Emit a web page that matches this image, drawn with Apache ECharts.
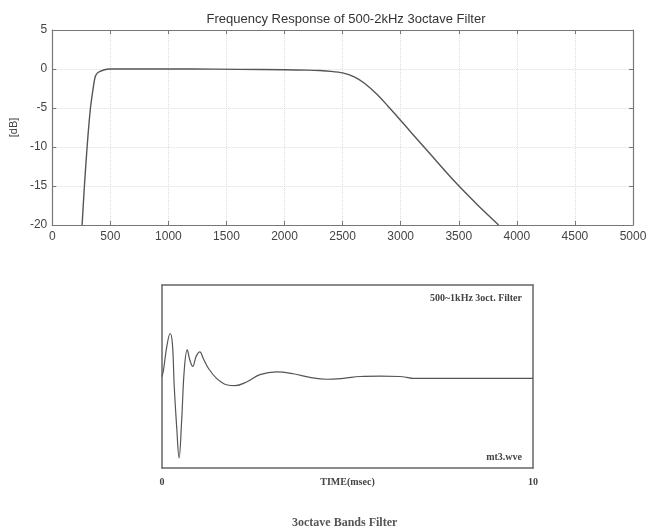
<!DOCTYPE html>
<html>
<head>
<meta charset="utf-8">
<script src="https://cdn.jsdelivr.net/npm/echarts@6/dist/echarts.min.js"></script>
<style>
  html, body { margin: 0; padding: 0; background: #fff; }
  #chart { width: 651px; height: 531px; }
</style>
</head>
<body>
<div id="chart"></div>
<script>
// Frequency response (Hz, dB)
const freqHz = [257, 277, 300, 329, 357, 370, 390, 412, 450, 490, 800, 1200, 1600, 2000, 2200, 2300, 2400, 2500, 2600, 2685, 2800, 2887, 3000, 3088, 3260, 3457, 3660, 3843];
const gainDb = [-20, -15, -10, -5, -2, -1, -0.5, -0.3, -0.1, 0, 0, 0, -0.05, -0.1, -0.15, -0.2, -0.3, -0.5, -1.0, -1.8, -3.3, -4.7, -6.6, -8.1, -11.0, -14.3, -17.4, -20];

// Impulse response (msec, relative amplitude)
const timeMs = [0, 0.04, 0.13, 0.22, 0.28, 0.33, 0.40, 0.46, 0.53, 0.60, 0.68, 0.75, 0.83, 0.92, 1.02, 1.11, 1.25, 1.47, 1.74, 1.97, 2.28, 2.64, 3.09, 3.54, 3.99, 4.44, 4.89, 5.34, 5.88, 6.42, 6.6, 6.77, 8, 10];
const amplitude = [0, 0.07, 0.33, 0.47, 0.36, -0.11, -0.58, -0.89, -0.48, 0.07, 0.29, 0.18, 0.11, 0.22, 0.27, 0.20, 0.09, -0.02, -0.09, -0.10, -0.06, 0.02, 0.05, 0.03, -0.01, -0.03, -0.02, 0, 0.005, 0, -0.01, -0.02, -0.02, -0.02];

const sans = "Liberation Sans";
const serif = "Liberation Serif";
const ink = "#444";

const chart = echarts.init(document.getElementById("chart"));

chart.setOption({
    backgroundColor: "#fff",
    animation: false,
    title: [
        {
            text: "Frequency Response of 500-2kHz 3octave Filter",
            left: 341, top: 8, textAlign: "center",
            textStyle: { fontFamily: sans, fontSize: 13, fontWeight: "normal", color: "#333" },
        },
        {
            text: "3octave Bands Filter",
            left: 287, top: 512,
            textStyle: { fontFamily: serif, fontSize: 12, fontWeight: "bold", color: "#555" },
        },
    ],
    graphic: [
        {
            type: "text", right: 129, top: 293,
            style: { text: "500~1kHz 3oct. Filter", font: "bold 10px " + serif, fill: "#444" },
        },
        {
            type: "text", right: 129, top: 452,
            style: { text: "mt3.wve", font: "bold 10px " + serif, fill: "#444" },
        },
    ],
    grid: [
        { left: 50, top: 30, width: 583, height: 195 },
        { left: 162, top: 285, width: 371, height: 183 },
    ],
    xAxis: [
        {
            gridIndex: 0, type: "value", min: 0, max: 5000, interval: 500,
            axisLine: { onZero: false, lineStyle: { color: "#777", width: 1.2 } },
            axisTick: { inside: true, length: 4, lineStyle: { color: "#777" } },
            axisLabel: { fontFamily: sans, fontSize: 12, color: ink, margin: 6, formatter: (v) => String(v) },
            splitLine: { show: true, lineStyle: { color: "#ddd", type: "dotted" } },
        },
        {
            gridIndex: 0, type: "value", min: 0, max: 5000, interval: 500, position: "top",
            axisLine: { onZero: false, lineStyle: { color: "#777", width: 1.2 } },
            axisTick: { inside: true, length: 4, lineStyle: { color: "#777" } },
            axisLabel: { show: false },
            splitLine: { show: false },
        },
        {
            gridIndex: 1, type: "value", min: 0, max: 10, interval: 10,
            name: "TIME(msec)", nameLocation: "middle", nameGap: 9, nameMoveOverlap: false,
            nameTextStyle: { fontFamily: serif, fontSize: 10, fontWeight: "bold", color: ink, padding: [0, 0, 0, 0] },
            axisLine: { onZero: false, lineStyle: { color: "#666", width: 1.5 } },
            axisTick: { show: false },
            axisLabel: { fontFamily: serif, fontSize: 10, fontWeight: "bold", color: ink, margin: 9 },
            splitLine: { show: false },
        },
        {
            gridIndex: 1, type: "value", min: 0, max: 10, position: "top",
            axisLine: { onZero: false, lineStyle: { color: "#666", width: 1.5 } },
            axisTick: { show: false }, axisLabel: { show: false }, splitLine: { show: false },
        },
    ],
    yAxis: [
        {
            gridIndex: 0, type: "value", min: -20, max: 5, interval: 5,
            name: "[dB]", nameLocation: "middle", nameGap: 31, nameRotate: 90,
            nameTextStyle: { fontFamily: sans, fontSize: 11, color: ink },
            axisLine: { show: true, onZero: false, lineStyle: { color: "#777", width: 1.2 } },
            axisTick: { show: true, inside: true, length: 4, lineStyle: { color: "#777" } },
            axisLabel: { fontFamily: sans, fontSize: 12, color: ink, margin: 5 },
            splitLine: { show: true, lineStyle: { color: "#ddd", type: "dotted" } },
        },
        {
            gridIndex: 0, type: "value", min: -20, max: 5, interval: 5, position: "right",
            axisLine: { show: true, onZero: false, lineStyle: { color: "#777", width: 1.2 } },
            axisTick: { show: true, inside: true, length: 4, lineStyle: { color: "#777" } },
            axisLabel: { show: false },
            splitLine: { show: false },
        },
        {
            gridIndex: 1, type: "value", min: -1, max: 1,
            axisLine: { show: true, onZero: false, lineStyle: { color: "#666", width: 1.5 } },
            axisTick: { show: false }, axisLabel: { show: false }, splitLine: { show: false },
        },
        {
            gridIndex: 1, type: "value", min: -1, max: 1, position: "right",
            axisLine: { show: true, onZero: false, lineStyle: { color: "#666", width: 1.5 } },
            axisTick: { show: false }, axisLabel: { show: false }, splitLine: { show: false },
        },
    ],
    series: [
        {
            type: "line", xAxisIndex: 0, yAxisIndex: 0,
            data: freqHz.map((f, i) => [f, gainDb[i]]),
            smooth: 0.25, showSymbol: false,
            lineStyle: { color: "#555", width: 1.4 },
        },
        {
            type: "line", xAxisIndex: 2, yAxisIndex: 2,
            data: timeMs.map((t, i) => [t, amplitude[i]]),
            smooth: 0.4, showSymbol: false,
            lineStyle: { color: "#555", width: 1.2 },
        },
    ],
});
</script>
</body>
</html>
